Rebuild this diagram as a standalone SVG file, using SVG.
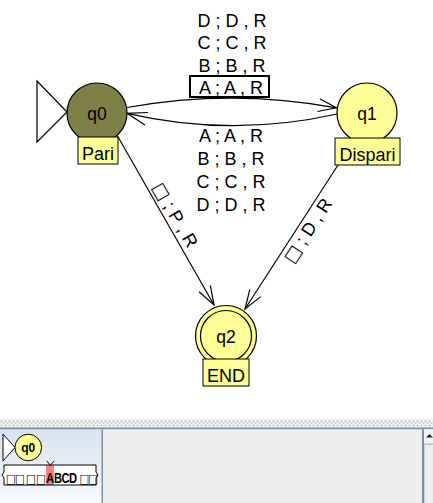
<svg xmlns="http://www.w3.org/2000/svg" width="433" height="503" viewBox="0 0 433 503">
<defs>
<style>
text{font-family:"Liberation Sans","DejaVu Sans",sans-serif;fill:#000}
.lbl{font-size:18px;text-anchor:middle}
.st{font-size:17.5px;text-anchor:middle}
.sq{font-family:"DejaVu Sans",sans-serif}
.tsq{font-family:"DejaVu Sans",sans-serif;font-size:13px}
.edge{fill:none;stroke:#000;stroke-width:1.2}
.state{fill:#ffff96;stroke:#000;stroke-width:1.2}
.note{fill:#ffff96;stroke:#000;stroke-width:1}
.slate{fill:#7d8ea0}
</style>
<linearGradient id="lp" x1="0" y1="0" x2="0" y2="1">
<stop offset="0" stop-color="#d9e3f0"/>
<stop offset="1" stop-color="#f8fafd"/>
</linearGradient>
<pattern id="dots" x="0" y="0" width="4" height="4" patternUnits="userSpaceOnUse">
<rect x="1" y="1" width="1" height="1" fill="#8a98a8"/>
<rect x="3" y="3" width="1" height="1" fill="#c4ccd6"/>
</pattern>
</defs>
<rect x="0" y="0" width="433" height="503" fill="#fff"/>

<g id="connectors">
<path class="edge" d="M127,107.5 Q232,88.5 336.5,107.8"/>
<polyline class="edge" points="320,99 336.5,107.8 317.5,111.5"/>
<path class="edge" d="M337,114 Q232,137.6 127,113.3"/>
<polyline class="edge" points="148,112.5 127,113.3 145,125"/>
<line class="edge" x1="105" y1="114" x2="214" y2="305"/>
<polyline class="edge" points="199,291.8 214,305 210.3,285.3"/>
<line class="edge" x1="360" y1="131" x2="245" y2="309"/>
<polyline class="edge" points="249.8,289.6 245,309 260.7,296.6"/>
<g id="label-q0-q1">
<text class="lbl" x="232" y="26.5">D ; D , R</text>
<text class="lbl" x="232" y="49">C ; C , R</text>
<text class="lbl" x="232" y="71.5">B ; B , R</text>
<rect x="190" y="76" width="79" height="21" fill="none" stroke="#000" stroke-width="2"/>
<text class="lbl" x="231" y="94">A ; A , R</text>
</g>
<g id="label-q1-q0">
<text class="lbl" x="231" y="142">A ; A , R</text>
<text class="lbl" x="231" y="165">B ; B , R</text>
<text class="lbl" x="231" y="188">C ; C , R</text>
<text class="lbl" x="231" y="211">D ; D , R</text>
</g>
<text class="lbl" transform="translate(170,218) rotate(60)"><tspan class="sq">□</tspan> ; P , R</text>
<text class="lbl" transform="translate(313,234) rotate(-57)"><tspan class="sq">□</tspan> ; D , R</text>
</g>

<g id="q0">
<polygon points="37,81 67,112 37,142" fill="#fff" stroke="#000" stroke-width="1.2"/>
<circle cx="97" cy="113" r="30" fill="#7f7f48" stroke="#000" stroke-width="1.2"/>
<text class="st" x="97" y="119.5">q0</text>
<rect class="note" x="78" y="137" width="40" height="27"/>
<text class="lbl" x="98" y="159.5">Pari</text>
</g>
<g id="q1">
<circle class="state" cx="367" cy="113" r="30"/>
<text class="st" x="367" y="119.5">q1</text>
<rect class="note" x="335" y="138" width="65" height="27"/>
<text class="lbl" x="367.5" y="160.5">Dispari</text>
</g>
<g id="q2">
<circle class="state" cx="226" cy="336" r="30.5"/>
<circle class="state" cx="226" cy="336" r="25.5"/>
<text class="st" x="226" y="342.5">q2</text>
<rect class="note" x="203" y="359" width="46" height="27"/>
<text class="lbl" x="226" y="381.5">END</text>
</g>

<g id="panel">
<rect x="0" y="419" width="433" height="9" fill="#eeeeee"/>
<rect x="0" y="420" width="433" height="6" fill="url(#dots)"/>
<rect class="slate" x="0" y="427.5" width="433" height="2"/>
<rect x="0" y="429.5" width="102" height="73.5" fill="url(#lp)"/>
<rect class="slate" x="101.5" y="429.5" width="1.5" height="73.5"/>
<rect x="103" y="429.5" width="319" height="73.5" fill="#eeeeee"/>
<rect class="slate" x="422" y="429.5" width="2" height="73.5"/>
<rect x="424" y="429.5" width="9" height="73.5" fill="#eeeeee"/>
<rect x="424" y="429.5" width="9" height="14.5" fill="#f4f4f4"/>
<rect x="424" y="443.5" width="9" height="1.2" fill="#a8b4c0"/>
<rect x="424" y="444.7" width="1" height="58.3" fill="#c8d0da"/>
<polygon points="426,437.5 429.5,434 433,437.5" fill="#222"/>
</g>
<g id="mini-q0">
<polygon points="3,434 15,447.5 3,461" fill="#fff" stroke="#000" stroke-width="1"/>
<circle cx="28.3" cy="447.5" r="13.3" fill="#ffff96" stroke="#000" stroke-width="1"/>
<text x="28.3" y="452.3" font-size="12" font-weight="bold" text-anchor="middle">q0</text>
</g>
<g id="mini-tape">
<rect x="4" y="465" width="92" height="20" fill="#fff"/>
<rect x="46" y="465" width="8" height="20" fill="#ff8080"/>
<path d="M4,465 H96 M4,485 H96 M4,465 V472 L2,475 L4,478 V485 M96,465 V472 L98,475 L96,478 V485" fill="none" stroke="#000" stroke-width="1"/>
<text transform="scale(0.8,1)" y="483.5" font-size="14" font-weight="bold"><tspan class="tsq" x="7.5">□</tspan><tspan class="tsq" x="18.8">□</tspan><tspan class="tsq" x="32.5">□</tspan><tspan class="tsq" x="45">□</tspan><tspan x="57.5">A</tspan><tspan x="67.6">B</tspan><tspan x="77">C</tspan><tspan x="86.4">D</tspan><tspan class="tsq" x="99.4">□</tspan><tspan class="tsq" x="110.4">□</tspan></text>
<polyline points="46.7,461 50.3,465 54.3,461" fill="none" stroke="#000" stroke-width="1"/>
</g>
</svg>
